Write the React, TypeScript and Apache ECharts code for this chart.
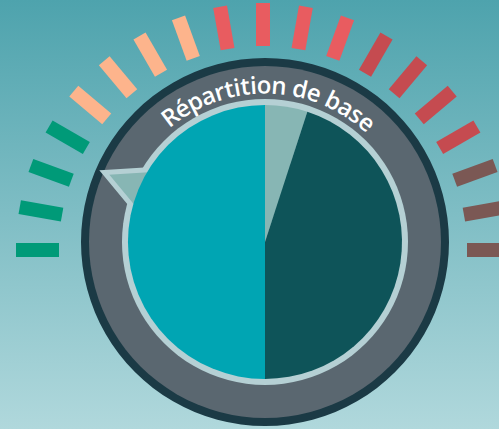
import React, { useEffect, useRef } from 'react';
import * as echarts from 'echarts';

// Pie slices (clockwise from 12 o'clock)
const sliceNames = ['Segment 1', 'Segment 2', 'Segment 3'];
const sliceValues = [5, 45, 50];
const sliceColors = ['#87b6b4', '#0e5459', '#00a5b3'];

// Dial ticks: 18 intervals over a half circle, coloured by band
const tickSegments = [18];
const tickBandEnds = [3.5 / 18, 7.5 / 18, 11.5 / 18, 15.5 / 18, 1];
const tickBandColors = ['#009a78', '#fdb48c', '#e85c60', '#c54b50', '#7b5854'];

// Pointer value on a 0-100 half-circle scale
const pointerValue = [13];

const titleText = 'Répartition de base';

export default function App() {
  const ref = useRef<HTMLDivElement>(null);
  useEffect(() => {
    if (!ref.current) return;
    const chart = echarts.init(ref.current, null, { renderer: 'svg' });
    const cx = 265;
    const cy = 242;

    // curved title, one glyph per element
    const fontSize = 24;
    const fontFamily = '"Open Sans", sans-serif';
    const fontWeight = 600;
    const canvas = document.createElement('canvas');
    const ctx = canvas.getContext('2d')!;
    ctx.font = `${fontWeight} ${fontSize}px ${fontFamily}`;
    const chars = Array.from(titleText);
    const raw = chars.map((c) => ctx.measureText(c).width);
    const rText = 158;
    const startDeg = -40;
    const endDeg = 43;
    const targetLen = ((endDeg - startDeg) * Math.PI / 180) * rText;
    const rawTotal = raw.reduce((a, b) => a + b, 0);
    const spacing = (targetLen - rawTotal) / chars.length;
    const widths = raw.map((w) => w + spacing);
    const total = widths.reduce((a, b) => a + b, 0);
    const centerAngle = (((startDeg + endDeg) / 2) * Math.PI) / 180;
    let acc = 0;
    const letterEls: any[] = chars.map((c, i) => {
      const mid = acc + widths[i] / 2;
      acc += widths[i];
      const th = centerAngle + (mid - total / 2) / rText;
      return {
        type: 'text',
        x: cx + rText * Math.sin(th),
        y: cy - rText * Math.cos(th),
        rotation: -th,
        z: 10,
        silent: true,
        style: {
          text: c,
          fill: '#ffffff',
          fontSize,
          fontFamily,
          fontWeight,
          align: 'center',
          verticalAlign: 'middle',
        },
      };
    });

    chart.setOption({
      animation: false,
      backgroundColor: {
        type: 'linear',
        x: 0,
        y: 0,
        x2: 0,
        y2: 1,
        colorStops: [
          { offset: 0, color: '#4ea3ad' },
          { offset: 1, color: '#b0d8dc' },
        ],
      },
      graphic: [
        { type: 'circle', z: 0, silent: true, shape: { cx, cy, r: 184 }, style: { fill: '#1b3a45' } },
        { type: 'circle', z: 0, silent: true, shape: { cx, cy, r: 176 }, style: { fill: '#5a6770' } },
        { type: 'circle', z: 0, silent: true, shape: { cx, cy, r: 143 }, style: { fill: '#b5d0d4' } },
        ...letterEls,
      ],
      series: [
        {
          type: 'gauge',
          center: [263, 250],
          radius: 247,
          startAngle: 180,
          endAngle: 0,
          min: 0,
          max: 180,
          splitNumber: tickSegments[0],
          axisLine: {
            show: false,
            lineStyle: { width: 0, color: tickBandEnds.map((e, i) => [e, tickBandColors[i]]) },
          },
          splitLine: { show: true, length: 43, distance: 0, lineStyle: { width: 14, color: 'auto', cap: 'butt' } },
          axisTick: { show: false },
          axisLabel: { show: false },
          pointer: { show: false },
          anchor: { show: false },
          title: { show: false },
          detail: { show: false },
          silent: true,
          data: [{ value: 0 }],
        },
        {
          type: 'gauge',
          center: [cx, cy],
          radius: 180,
          startAngle: 180,
          endAngle: 0,
          min: 0,
          max: 100,
          z: 3,
          axisLine: { show: false },
          splitLine: { show: false },
          axisTick: { show: false },
          axisLabel: { show: false },
          pointer: {
            show: true,
            icon: 'triangle',
            length: 175,
            width: 178,
            offsetCenter: [0, 0],
            itemStyle: { color: '#87b6b4', borderColor: '#b5d0d4', borderWidth: 5 },
          },
          anchor: { show: false },
          title: { show: false },
          detail: { show: false },
          silent: true,
          data: [{ value: pointerValue[0] }],
        },
        {
          type: 'pie',
          center: [cx, cy],
          radius: 137,
          startAngle: 90,
          clockwise: true,
          z: 4,
          silent: true,
          label: { show: false },
          labelLine: { show: false },
          data: sliceValues.map((v, i) => ({
            name: sliceNames[i],
            value: v,
            itemStyle: { color: sliceColors[i] },
          })),
        },
      ],
    });
    return () => chart.dispose();
  }, []);
  return <div ref={ref} style={{ position: 'fixed', left: 0, top: 0, width: 499, height: 429 }} />;
}
